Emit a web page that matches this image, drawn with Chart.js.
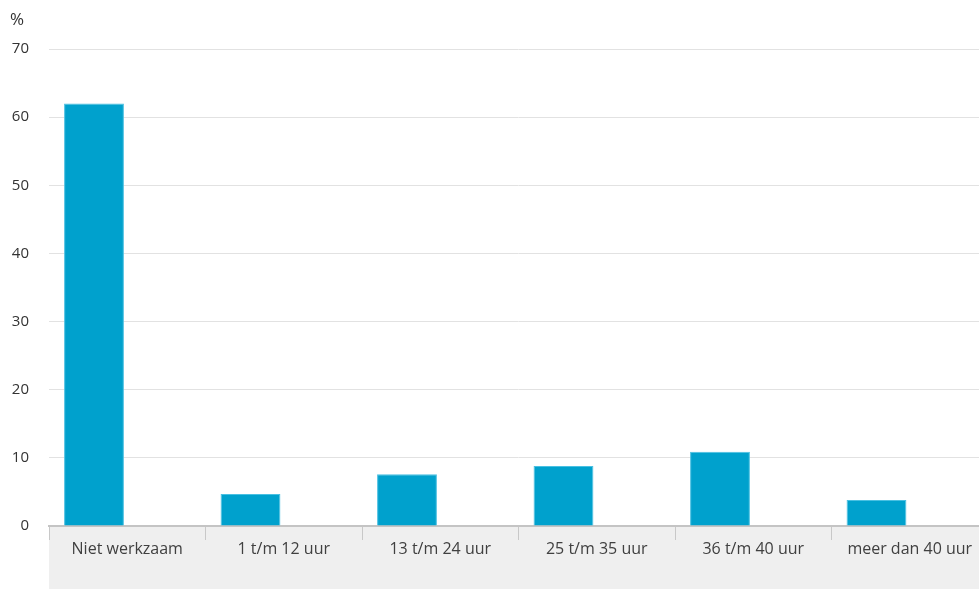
<!DOCTYPE html>
<html>
<head>
<meta charset="utf-8">
<script src="https://cdn.jsdelivr.net/npm/chart.js@4/dist/chart.umd.min.js"></script>
<style>
  html, body { margin: 0; padding: 0; overflow: hidden; background: #fff; }
  #wrap { position: relative; width: 988px; height: 589px; }
</style>
</head>
<body>
<div id="wrap"><canvas id="c"></canvas></div>
<script>
const categories = ['Niet werkzaam', '1 t/m 12 uur', '13 t/m 24 uur', '25 t/m 35 uur', '36 t/m 40 uur', 'meer dan 40 uur'];
const values = [62, 4.7, 7.6, 8.8, 10.9, 3.8];
const emptySeries = [null, null, null, null, null, null];
const yTicks = [0, 10, 20, 30, 40, 50, 60, 70];
const unitLabel = '%';

const FONT = "'Open Sans', sans-serif";

const bandPlugin = {
  id: 'band',
  beforeDraw(chart) {
    const { ctx, chartArea } = chart;
    ctx.save();
    ctx.fillStyle = '#efefef';
    ctx.fillRect(chartArea.left, chartArea.bottom, chart.width - chartArea.left, chart.height - chartArea.bottom);
    ctx.restore();
  },
  afterDraw(chart) {
    const { ctx } = chart;
    ctx.save();
    ctx.fillStyle = '#333333';
    ctx.font = "17px " + FONT;
    ctx.textBaseline = 'middle';
    ctx.textAlign = 'left';
    ctx.fillText(unitLabel, 10, 20);
    ctx.restore();
  }
};

new Chart(document.getElementById('c'), {
  type: 'bar',
  data: {
    labels: categories,
    datasets: [
      { label: 'waarde', data: values, backgroundColor: '#00a1cd', borderColor: '#49c0e2', borderWidth: 1,
        categoryPercentage: 0.85, barPercentage: 0.9 },
      { label: '', data: emptySeries, backgroundColor: 'transparent',
        categoryPercentage: 0.85, barPercentage: 0.9 }
    ]
  },
  options: {
    responsive: true,
    maintainAspectRatio: false,
    animation: false,
    layout: { padding: { top: 49, left: 0, right: 0, bottom: 0 } },
    plugins: { legend: { display: false }, tooltip: { enabled: false }, title: { display: false } },
    scales: {
      x: {
        offset: true,
        grid: { drawOnChartArea: false, drawTicks: true, tickLength: 14, color: '#c8c8c8', lineWidth: 1 },
        border: { display: true, color: '#c4c4c4', width: 2 },
        ticks: { color: '#404040', font: { family: FONT, size: 16 }, padding: 0, maxRotation: 0, autoSkip: false },
        afterFit(scale) { scale.height = 63; }
      },
      y: {
        min: 0, max: 70,
        afterBuildTicks(scale) { scale.ticks = yTicks.map(v => ({ value: v })); },
        grid: { color: '#e2e2e2', lineWidth: 1, drawTicks: false },
        border: { display: false },
        ticks: { color: '#333333', font: { family: FONT, size: 15 }, padding: 20 },
        afterFit(scale) { scale.width = 49; }
      }
    }
  },
  plugins: [bandPlugin]
});
</script>
</body>
</html>
